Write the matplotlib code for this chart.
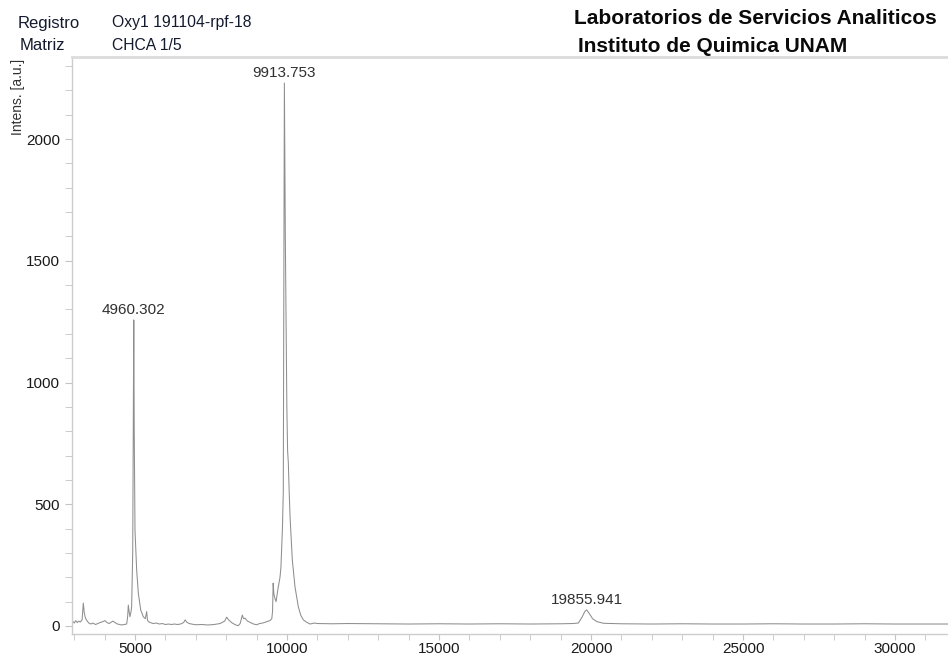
import matplotlib.pyplot as plt
from matplotlib.ticker import MultipleLocator

plt.rcParams['font.family'] = ['Liberation Sans', 'DejaVu Sans']

# Spectrum: m/z and intensity
MZ = [2928, 2960, 3000, 3050, 3100, 3150, 3200, 3260, 3300, 3330, 3370,
      3430, 3480, 3550, 3620, 3700, 3780, 3850, 3950, 4013, 4080, 4150,
      4200, 4276, 4340, 4420, 4500, 4560, 4650, 4727, 4760, 4780, 4805,
      4836, 4870, 4890, 4925, 4945, 4960, 4975, 5000, 5055, 5109, 5188,
      5273, 5340, 5384, 5410, 5438, 5500, 5600, 5700, 5800, 5900, 6000,
      6100, 6200, 6300, 6400, 6500, 6600, 6650, 6700, 6780, 6900, 7000,
      7200, 7400, 7600, 7800, 7950, 8016, 8080, 8200, 8300, 8390, 8460,
      8530, 8570, 8620, 8700, 8800, 8900, 9004, 9100, 9200, 9300, 9400,
      9440, 9500, 9525, 9545, 9570, 9610, 9640, 9700, 9770, 9800, 9850,
      9878, 9895, 9914, 9945, 9975, 9995, 10020, 10044, 10070, 10100,
      10175, 10263, 10372, 10450, 10537, 10650, 10760, 10900, 11000,
      11500, 12000, 13000, 14000, 15000, 16000, 17000, 18000, 19000,
      19400, 19583, 19700, 19800, 19856, 19950, 20050, 20190, 20410,
      21000, 22000, 23000, 24000, 25000, 26000, 27000, 28000, 29000,
      30000, 31000, 31800]
INTENS = [10, 18, 12, 22, 14, 20, 16, 25, 94, 55, 32,
          20, 12, 8, 12, 6, 10, 14, 18, 22, 14, 10,
          14, 20, 14, 8, 6, 4, 6, 8, 40, 86, 60,
          38, 60, 79, 300, 800, 1257, 800, 394, 230, 135, 66,
          38, 30, 59, 25, 18, 14, 10, 12, 8, 10, 6,
          8, 6, 8, 6, 8, 14, 25, 16, 10, 7, 5,
          6, 4, 6, 10, 20, 36, 25, 12, 5, 1, 10,
          45, 30, 32, 20, 14, 8, 5, 10, 12, 16, 20,
          22, 30, 60, 176, 130, 110, 100, 150, 200, 240, 400,
          550, 1300, 2230, 1600, 1200, 900, 720, 670, 560, 450,
          271, 161, 79, 45, 25, 15, 8, 12, 10,
          9, 10, 9, 8, 9, 8, 9, 8, 9,
          10, 12, 35, 60, 66, 50, 30, 18, 11,
          9, 8, 9, 8, 8, 9, 8, 8, 9,
          8, 8, 8]

# Annotated peaks
PEAK_MZ = [4960.302, 9913.753, 19855.941]
PEAK_INT = [1257, 2230, 66]

W, H = 948, 658
fig = plt.figure(figsize=(W / 100, H / 100), dpi=100)
ax = fig.add_axes([72 / W, 1 - 634 / H, 1 - 72 / W, (634 - 57) / H])

ax.plot(MZ, INTENS, color='#8e8e8e', lw=0.75)

for mz, inten in zip(PEAK_MZ, PEAK_INT):
    ax.annotate('%.3f' % mz, (mz, inten), xytext=(0, 2),
                textcoords='offset points', ha='center', va='bottom',
                fontsize=11, color='#303030')

ax.set_xlim(2928, 31743)
ax.set_ylim(-33, 2337)
ax.xaxis.set_major_locator(MultipleLocator(5000))
ax.xaxis.set_minor_locator(MultipleLocator(1000))
ax.yaxis.set_major_locator(MultipleLocator(500))
ax.yaxis.set_minor_locator(MultipleLocator(100))

for side in ['left', 'bottom']:
    ax.spines[side].set_color('#cccccc')
    ax.spines[side].set_linewidth(1.0)
ax.spines['top'].set_color('#dcdcdc')
ax.spines['top'].set_linewidth(2.0)
ax.spines['right'].set_visible(False)
ax.tick_params(axis='both', which='both', colors='#c4c4c4',
               labelcolor='#1a1a1a', labelsize=11)
ax.tick_params(axis='y', which='both', length=5, pad=3.5)
ax.tick_params(axis='x', which='both', length=4, pad=2)

fig.text(18 / W, 1 - 97 / H, 'Intens. [a.u.]', rotation=90,
         ha='center', va='center', fontsize=10, color='#303030')

# header block
hdr = '#141a2e'
fig.text(18 / W, 1 - 28 / H, 'Registro', fontsize=12, color=hdr, va='baseline')
fig.text(20 / W, 1 - 50 / H, 'Matriz', fontsize=12, color=hdr, va='baseline')
fig.text(112 / W, 1 - 27 / H, 'Oxy1 191104-rpf-18', fontsize=11.3, color=hdr,
         va='baseline')
fig.text(112 / W, 1 - 50 / H, 'CHCA 1/5', fontsize=11.3, color=hdr,
         va='baseline')
fig.text(574 / W, 1 - 24 / H, 'Laboratorios de Servicios Analiticos',
         fontsize=15, fontweight='bold', color='#0a0a0a', va='baseline')
fig.text(578 / W, 1 - 52 / H, 'Instituto de Quimica UNAM',
         fontsize=15, fontweight='bold', color='#0a0a0a', va='baseline')

fig.savefig('out.png', dpi=100)
